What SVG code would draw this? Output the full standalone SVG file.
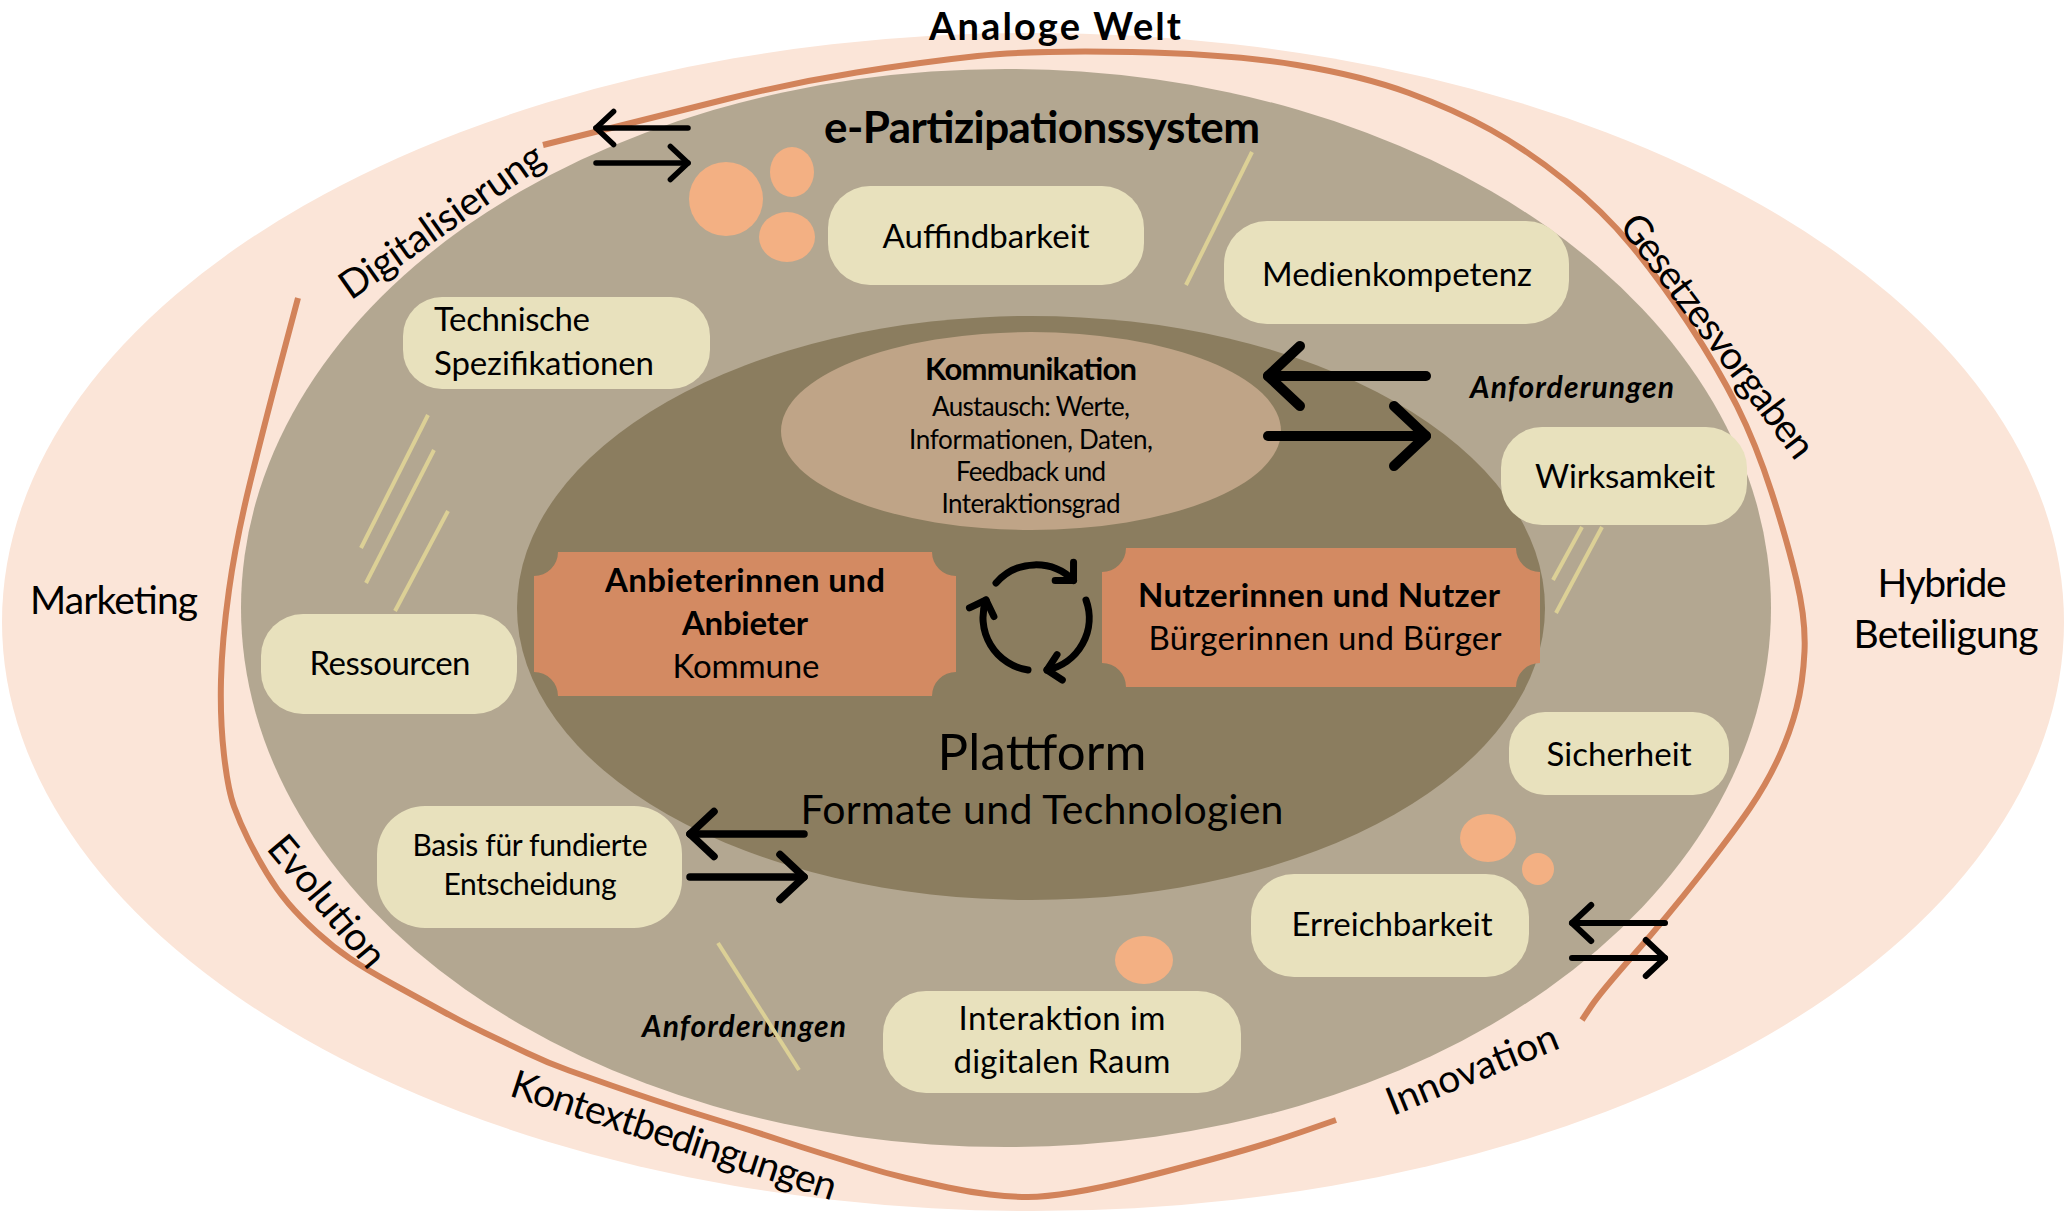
<svg xmlns="http://www.w3.org/2000/svg" width="2067" height="1215" viewBox="0 0 2067 1215">
<style>
text{font-family:Lato,"Noto Sans","Liberation Sans",sans-serif;fill:#000}
.c{text-anchor:middle}
.b{font-weight:bold}
.bi{font-weight:bold;font-style:italic}
.box{fill:#E8E1BD}
.dot{fill:#F3B083}
.yl{stroke:#DCD096;stroke-width:4;stroke-linecap:butt;fill:none}
.ol{fill:none;stroke:#D2835A;stroke-width:6;stroke-linecap:butt;stroke-linejoin:round}
.plq{fill:#D38A62}
.arr{fill:none;stroke:#000;stroke-linecap:round;marker-end:url(#ah)}
.carr{fill:none;stroke:#000;stroke-width:7;stroke-linecap:round;marker-end:url(#ah2)}
.ring{font-size:39px}
.bt{font-size:33px}
</style>
<defs>
<marker id="ah" markerUnits="strokeWidth" orient="auto" overflow="visible" markerWidth="1" markerHeight="1" refX="0" refY="0">
<path d="M-3.2,-3 L0,0 L-3.2,3" fill="none" stroke="#000" stroke-width="1" stroke-linecap="round" stroke-linejoin="round"/>
</marker>
<marker id="ah2" markerUnits="strokeWidth" orient="auto" overflow="visible" markerWidth="1" markerHeight="1" refX="0" refY="0">
<path d="M-1.85,-1.85 L0,0 L-1.85,1.85" fill="none" stroke="#000" stroke-width="1" stroke-linecap="round" stroke-linejoin="round"/>
</marker>
</defs>
<rect width="2067" height="1215" fill="#FFFFFF"/>

<g id="rings">
<ellipse cx="1033" cy="622" rx="1031" ry="589" fill="#FBE5D8"/>
<ellipse cx="1006" cy="608" rx="765" ry="539" fill="#B3A791"/>
<ellipse cx="1031" cy="608" rx="514" ry="292" fill="#8B7D5F"/>
<path class="ol" d="M543,145 L601,130.5 Q659,116 725,99.5 Q791,83 856.5,72.5 Q922,62 977.5,56 Q1033,50 1132,52 Q1231,54 1297,65 Q1363,76 1409,93 Q1455,110 1491,130 Q1527,150 1565,180.5 Q1603,211 1631.5,245.5 Q1660,280 1689,324 Q1718,368 1737,406 Q1756,444 1771.5,492 Q1787,540 1796.5,580 Q1806,620 1804.5,651.5 Q1803,683 1796.5,708 Q1790,733 1778.5,758 Q1767,783 1750,808 Q1733,833 1700,875 Q1667,917 1633.5,955 Q1600,993 1591,1006.5 L1582,1020"/>
<path class="ol" d="M298,298 L281,362 Q264,426 250,483 Q236,540 229,590 Q222,640 221,680 Q220,720 224,755 Q228,790 234,806.5 Q240,823 248.5,840 Q257,857 267,873.5 Q277,890 288.5,903.5 Q300,917 316.5,932 Q333,947 350,958.5 Q367,970 394.5,985 Q422,1000 443,1011.5 Q464,1023 485,1033 Q506,1043 527,1053 Q548,1063 569,1070.5 Q590,1078 611.5,1085.5 Q633,1093 654,1100 Q675,1107 696,1113.5 Q717,1120 738,1126.5 Q759,1133 780,1140 Q801,1147 822,1153.5 Q843,1160 864,1166.5 Q885,1173 906,1178 Q927,1183 948,1187.5 Q969,1192 990,1194.5 Q1011,1197 1028,1197 Q1045,1197 1072.5,1192.5 Q1100,1188 1132.5,1180 Q1165,1172 1214.5,1158.5 Q1264,1145 1300,1132.5 L1336,1120"/>
</g>

<g id="ring-labels">
<text class="c b" x="1055" y="40" font-size="38" textLength="252">Analoge Welt</text>
<text class="c ring" transform="translate(449,232) rotate(-35)" textLength="240">Digitalisierung</text>
<text class="c ring" transform="translate(1707,344) rotate(53)" textLength="295">Gesetzesvorgaben</text>
<text class="c ring" transform="translate(317,910) rotate(50)" textLength="160">Evolution</text>
<text class="c ring" transform="translate(670,1148) rotate(18)" textLength="340">Kontextbedingungen</text>
<text class="c ring" transform="translate(1477,1082) rotate(-22)" textLength="182">Innovation</text>
<text class="c ring" x="114" y="614" textLength="168">Marketing</text>
<text class="c ring" x="1942" y="597" textLength="129">Hybride</text>
<text class="c ring" x="1946" y="648" textLength="185">Beteiligung</text>
<text class="c b" x="1042" y="143" font-size="44" textLength="436">e-Partizipationssystem</text>
<text class="c bi" x="1572" y="398" font-size="30" textLength="204">Anforderungen</text>
<text class="c bi" x="744" y="1037" font-size="30" textLength="204">Anforderungen</text>
</g>

<g id="decor">
<line class="yl" x1="1252" y1="152" x2="1186" y2="285"/>
<line class="yl" x1="428" y1="415" x2="361" y2="548"/>
<line class="yl" x1="434" y1="450" x2="366" y2="583"/>
<line class="yl" x1="448" y1="511" x2="395" y2="611"/>
<line class="yl" x1="1582" y1="527" x2="1553" y2="580"/>
<line class="yl" x1="1602" y1="527" x2="1556" y2="613"/>
<line class="yl" x1="718" y1="943" x2="799" y2="1070"/>
<ellipse class="dot" cx="726" cy="199" rx="37" ry="37"/>
<ellipse class="dot" cx="792" cy="172" rx="22" ry="25"/>
<ellipse class="dot" cx="787" cy="237" rx="28" ry="25"/>
<ellipse class="dot" cx="1488" cy="838" rx="28" ry="24"/>
<ellipse class="dot" cx="1538" cy="869" rx="16" ry="16"/>
<ellipse class="dot" cx="1144" cy="960" rx="29" ry="24"/>
</g>

<g id="kommunikation">
<ellipse cx="1031" cy="431" rx="250" ry="99" fill="#BFA487"/>
<text class="c b" x="1031" y="380" font-size="31" textLength="212">Kommunikation</text>
<text class="c" x="1031" y="416" font-size="26" textLength="198">Austausch: Werte,</text>
<text class="c" x="1031" y="449" font-size="26" textLength="244">Informationen, Daten,</text>
<text class="c" x="1031" y="481" font-size="26" textLength="150">Feedback und</text>
<text class="c" x="1031" y="513" font-size="26" textLength="179">Interaktionsgrad</text>
</g>

<g id="anbieter">
<path class="plq" d="M558,552 L932,552 A24,24 0 0 0 956,576 L956,672 A24,24 0 0 0 932,696 L558,696 A24,24 0 0 0 534,672 L534,576 A24,24 0 0 0 558,552 Z"/>
<text class="c b" x="745" y="592" font-size="33" textLength="280">Anbieterinnen und</text>
<text class="c b" x="745" y="635" font-size="33" textLength="126">Anbieter</text>
<text class="c" x="746" y="678" font-size="33" textLength="147">Kommune</text>
</g>

<g id="nutzer">
<path class="plq" d="M1126,548 L1516,548 A24,24 0 0 0 1540,572 L1540,663 A24,24 0 0 0 1516,687 L1126,687 A24,24 0 0 0 1102,663 L1102,572 A24,24 0 0 0 1126,548 Z"/>
<text class="c b" x="1319" y="607" font-size="33" textLength="362">Nutzerinnen und Nutzer</text>
<text class="c" x="1325" y="650" font-size="33" textLength="353">Bürgerinnen und Bürger</text>
</g>

<g id="plattform">
<text class="c" x="1042" y="770" font-size="51" textLength="209">Plattform</text>
<text class="c" x="1042" y="824" font-size="41" textLength="483">Formate und Technologien</text>
</g>

<g id="auffindbarkeit">
<rect class="box" x="828" y="186" width="316" height="99" rx="42"/>
<text class="c bt" x="986" y="248" textLength="207">Auffindbarkeit</text>
</g>
<g id="medienkompetenz">
<rect class="box" x="1224" y="221" width="345" height="103" rx="43"/>
<text class="c bt" x="1397" y="286" textLength="270">Medienkompetenz</text>
</g>
<g id="technische-spezifikationen">
<rect class="box" x="403" y="297" width="307" height="92" rx="39"/>
<text class="bt" x="434" y="331" textLength="156">Technische</text>
<text class="bt" x="434" y="375" textLength="220">Spezifikationen</text>
</g>
<g id="wirksamkeit">
<rect class="box" x="1501" y="427" width="246" height="98" rx="41"/>
<text class="c bt" x="1625" y="488" textLength="180">Wirksamkeit</text>
</g>
<g id="ressourcen">
<rect class="box" x="261" y="614" width="256" height="100" rx="42"/>
<text class="c bt" x="390" y="675" textLength="161">Ressourcen</text>
</g>
<g id="sicherheit">
<rect class="box" x="1509" y="712" width="220" height="83" rx="36"/>
<text class="c bt" x="1619" y="766" textLength="145">Sicherheit</text>
</g>
<g id="basis">
<rect class="box" x="377" y="806" width="305" height="122" rx="48"/>
<text class="c" x="530" y="856" font-size="30" textLength="235">Basis für fundierte</text>
<text class="c" x="530" y="895" font-size="30" textLength="173">Entscheidung</text>
</g>
<g id="erreichbarkeit">
<rect class="box" x="1251" y="874" width="278" height="103" rx="43"/>
<text class="c bt" x="1392" y="936" textLength="201">Erreichbarkeit</text>
</g>
<g id="interaktion">
<rect class="box" x="883" y="991" width="358" height="102" rx="43"/>
<text class="c bt" x="1062" y="1030" textLength="207">Interaktion im</text>
<text class="c bt" x="1062" y="1073" textLength="217">digitalen Raum</text>
</g>

<g id="connectors">
<line class="arr" stroke-width="5.5" x1="688" y1="128" x2="596" y2="128"/>
<line class="arr" stroke-width="5.5" x1="596" y1="163" x2="688" y2="163"/>
<line class="arr" stroke-width="10" x1="1426" y1="376" x2="1268" y2="376"/>
<line class="arr" stroke-width="10" x1="1268" y1="436" x2="1426" y2="436"/>
<line class="arr" stroke-width="7.5" x1="804" y1="834" x2="690" y2="834"/>
<line class="arr" stroke-width="7.5" x1="690" y1="877" x2="804" y2="877"/>
<line class="arr" stroke-width="6" x1="1665" y1="923" x2="1572" y2="923"/>
<line class="arr" stroke-width="6" x1="1572" y1="958" x2="1665" y2="958"/>
<path class="carr" d="M996,583 A53,53 0 0 1 1073.5,580.5"/>
<path class="carr" d="M1086,600 A53,53 0 0 1 1047,670"/>
<path class="carr" d="M1028,670 A53,53 0 0 1 986,600"/>
</g>
</svg>
